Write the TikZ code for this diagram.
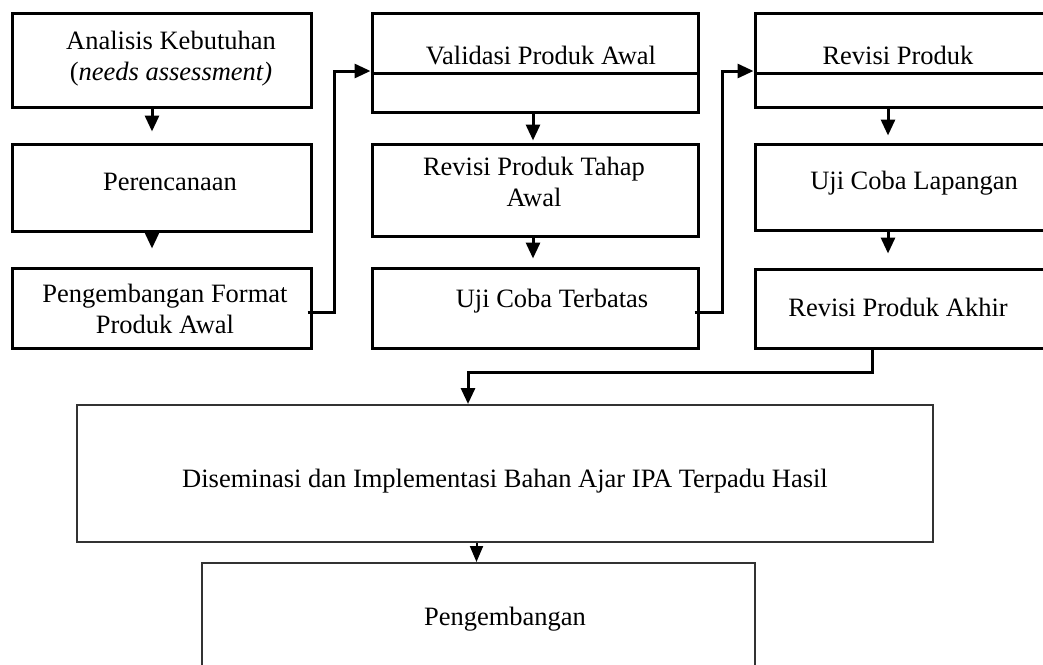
\documentclass[tikz,border=0pt]{standalone}
\usepackage{fontspec}
\setmainfont{Liberation Serif}
\usetikzlibrary{arrows.meta}

\begin{document}
\begin{tikzpicture}[x=1pt,y=-1pt,
  box/.style={shape=rectangle,draw=black,line width=3pt,inner sep=0pt},
  wide box/.style={shape=rectangle,draw=black!80,line width=2pt,inner sep=0pt},
  lbl/.style={inner sep=0pt,text height=18.5pt,text depth=6.6pt,font=\fontsize{26.5}{31}\selectfont},
  lbl2/.style={inner sep=0pt,align=center,font=\fontsize{26.5}{31}\selectfont},
  arr/.style={line width=3pt,-{Triangle[length=16pt,width=14pt]}},
  thin arr/.style={line width=2pt,-{Triangle[length=16pt,width=13pt]}}]
 \useasboundingbox (0,0) rectangle (1043,664);
 \clip (0,0) rectangle (1043,664);
 % boxes
 \node (box 1) at (161.5,60) [box,minimum width=299,minimum height=94] {};
 \node (box 2) at (161.5,187.5) [box,minimum width=299,minimum height=87] {};
 \node (box 3) at (161.5,308) [box,minimum width=299,minimum height=80] {};
 \node (box 4) at (535,62.5) [box,minimum width=326,minimum height=99] {};
 \node (box 5) at (535,190) [box,minimum width=326,minimum height=92] {};
 \node (box 6) at (535,308) [box,minimum width=326,minimum height=80] {};
 \node (box 7) at (912.5,60) [box,minimum width=315,minimum height=94] {};
 \node (box 8) at (912.5,187) [box,minimum width=315,minimum height=86] {};
 \node (box 9) at (912.5,308.5) [box,minimum width=315,minimum height=79] {};
 \node (box 10) at (505,473.5) [wide box,minimum width=856,minimum height=137] {};
 \node (box 11) at (478.5,631.5) [wide box,minimum width=553,minimum height=137] {};
 \draw[line width=3pt] (box 4.west |- 0,73) -- (box 4.east |- 0,73);
 \draw[line width=3pt] (box 7.west |- 0,73) -- (box 7.east |- 0,73);
 % texts
 \node (txt 1) at (171,59) [lbl2] {Analisis Kebutuhan\\(\textit{needs assessment)}};
 \node (txt 2) at (170,185) [lbl] {Perencanaan};
 \node (txt 3) at (165,308.6) [lbl2] {Pengembangan Format\\Produk Awal};
 \node (txt 4) at (541,59) [lbl] {Validasi Produk Awal};
 \node (txt 5) at (534,181.5) [lbl2] {Revisi Produk Tahap\\Awal};
 \node (txt 6) at (552,302) [lbl] {Uji Coba Terbatas};
 \node (txt 7) at (898,59) [lbl] {Revisi Produk};
 \node (txt 8) at (914,184) [lbl] {Uji Coba Lapangan};
 \node (txt 9) at (898,311) [lbl] {Revisi Produk Akhir};
 \node (txt 10) at (505,482) [lbl] {Diseminasi dan Implementasi Bahan Ajar IPA Terpadu Hasil};
 \node (txt 11) at (505,620) [lbl] {Pengembangan};
 % arrows
 \draw[arr,shorten >=11pt] (box 1.south -| 152,0) -- (box 2.north -| 152,0);
 \draw[arr,shorten >=18pt] (box 2.south -| 152,0) -- (box 3.north -| 152,0);
 \draw[arr,shorten >=2pt] (box 4.south -| 533,0) -- (box 5.north -| 533,0);
 \draw[arr,shorten >=8pt] (box 5.south -| 533,0) -- (box 6.north -| 533,0);
 \draw[arr,shorten >=7pt] (box 7.south -| 888,0) -- (box 8.north -| 888,0);
 \draw[arr,shorten >=14pt] (box 8.south -| 888,0) -- (box 9.north -| 888,0);
 \draw[arr] ([shift={(-5,4)}]box 3.east) -- ++(27,0) |- ([shift={(0,8.5)}]box 4.west);
 \draw[arr] ([shift={(-5,4)}]box 6.east) -- ++(28,0) |- ([shift={(0,11)}]box 7.west);
 \draw[arr] ([shift={(-40.5,0)}]box 9.south) -- ++(0,23) -| ([shift={(-37,0)}]box 10.north);
 \draw[thin arr] ([shift={(-2,0)}]box 10.south -| box 11.north) -- ([shift={(-2,0)}]box 11.north);
\end{tikzpicture}
\end{document}
